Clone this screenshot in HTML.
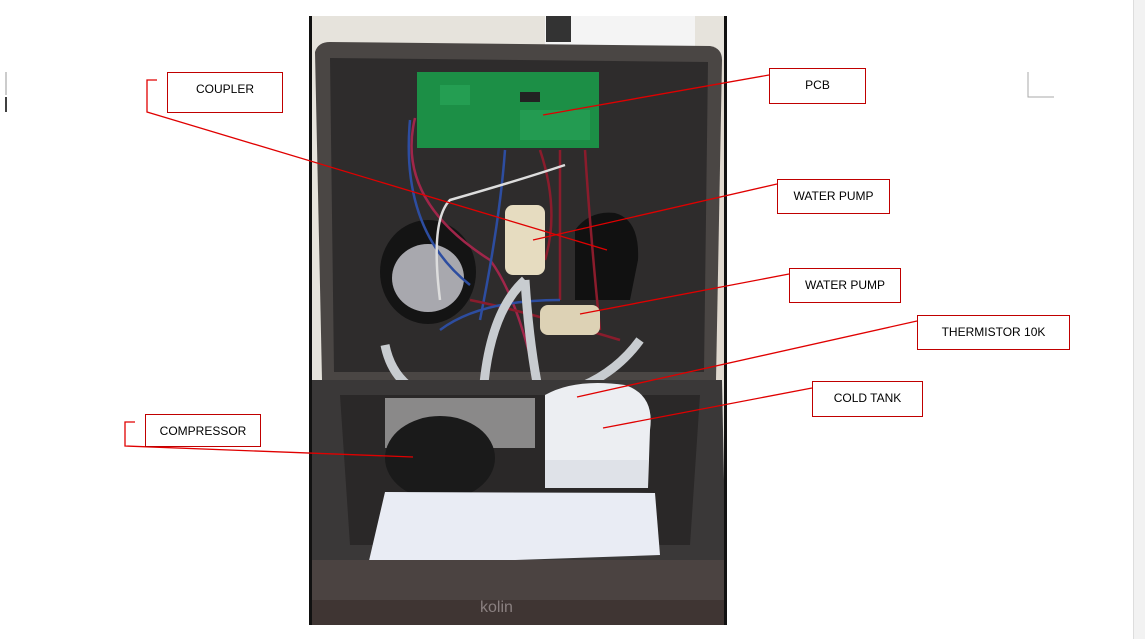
<!DOCTYPE html>
<html><head><meta charset="utf-8"><style>
html,body{margin:0;padding:0;background:#fff;}
body{width:1145px;height:639px;position:relative;overflow:hidden;font-family:"Liberation Sans",sans-serif;}
.lbl{position:absolute;border:1px solid #c00000;background:#fff;font-size:12px;color:#000;box-sizing:border-box;padding-top:9px;text-align:center;}
</style></head><body>
<div style="position:absolute;left:1133px;top:0;width:12px;height:639px;background:#f2f2f2;border-left:1px solid #ddd"></div>
<svg width="1145" height="639" style="position:absolute;left:0;top:0">
<rect x="309" y="16" width="418" height="609" fill="#e6e3dc"/>
<rect x="545" y="16" width="150" height="30" fill="#f4f4f4"/>
<rect x="546" y="16" width="25" height="26" fill="#333"/>
<rect x="690" y="60" width="37" height="320" fill="#e0d9cf"/>
<path d="M315 52 Q318 42 330 42 L710 46 Q722 48 722 60 L716 380 L322 380 Z" fill="#4a4644"/>
<path d="M330 58 L708 62 L704 372 L334 372 Z" fill="#2e2c2c"/>
<rect x="417" y="72" width="182" height="76" fill="#1c8f46"/>
<rect x="440" y="85" width="30" height="20" fill="#2aa85a" opacity=".6"/>
<rect x="520" y="110" width="70" height="30" fill="#26a055" opacity=".7"/>
<rect x="520" y="92" width="20" height="10" fill="#222"/>
<ellipse cx="428" cy="272" rx="48" ry="52" fill="#141414"/>
<ellipse cx="428" cy="278" rx="36" ry="34" fill="#a8a8ae"/>
<path d="M575 230 Q590 210 615 213 Q640 220 638 260 L630 300 L575 300 Z" fill="#111"/>
<g fill="none" stroke-width="2.5">
<path d="M415 118 Q395 200 490 260 Q520 300 540 400" stroke="#a0264a"/>
<path d="M410 120 Q400 230 470 285" stroke="#2d4da0"/>
<path d="M505 150 Q500 220 480 320" stroke="#2d4da0"/>
<path d="M540 150 Q560 210 545 260" stroke="#8a1c2c"/>
<path d="M560 150 L560 300" stroke="#8a1c2c"/>
<path d="M585 150 Q590 230 600 330" stroke="#8a1c2c"/>
<path d="M565 165 Q520 180 450 200 Q430 220 440 300" stroke="#ddd"/>
<path d="M470 300 Q520 310 620 340" stroke="#8a1c2c"/>
<path d="M440 330 Q480 300 560 300" stroke="#2d4da0"/>
</g>
<rect x="505" y="205" width="40" height="70" rx="8" fill="#e6dcc0"/>
<rect x="540" y="305" width="60" height="30" rx="8" fill="#ddd2b5"/>
<g fill="none" stroke="#c8ccd0" stroke-width="9">
<path d="M385 345 Q400 420 520 400 Q600 395 640 340"/>
<path d="M525 280 Q470 330 485 495"/>
<path d="M525 280 Q530 360 545 420"/>
</g>
<path d="M312 380 L722 380 L726 580 L310 580 Z" fill="#3a3838"/>
<path d="M340 395 L700 395 L690 545 L350 545 Z" fill="#2a2828"/>
<rect x="385" y="398" width="150" height="50" fill="#d8d8d8" opacity=".55"/>
<ellipse cx="440" cy="458" rx="55" ry="42" fill="#1a1a1a"/>
<path d="M545 395 Q575 378 625 385 Q655 395 650 430 L648 488 L545 488 Z" fill="#eceef2"/>
<path d="M545 460 L648 460 L648 488 L545 488 Z" fill="#dfe2e8"/>
<path d="M385 492 L655 493 L660 555 L368 565 Z" fill="#e9ecf4"/>
<rect x="309" y="560" width="418" height="65" fill="#4b4341"/>
<rect x="309" y="600" width="418" height="25" fill="#3f3533"/>
<text x="480" y="612" font-size="16" fill="#8a8080" font-family="Liberation Sans, sans-serif">kolin</text>
<rect x="309" y="16" width="3" height="609" fill="#111"/>
<rect x="724" y="16" width="3" height="609" fill="#111"/>
<line x1="6" y1="72" x2="6" y2="95" stroke="#999"/>
<line x1="6" y1="97" x2="6" y2="112" stroke="#000" stroke-width="1.5"/>
<polyline points="1028,72 1028,97 1054,97" fill="none" stroke="#aaa"/>
<g stroke="#e00000" stroke-width="1.3" fill="none">
<polyline points="157,80 147,80 147,112 607,250"/>
<line x1="769" y1="75" x2="543" y2="115"/>
<line x1="777" y1="184" x2="533" y2="240"/>
<line x1="789" y1="274" x2="580" y2="314"/>
<line x1="917" y1="321" x2="577" y2="397"/>
<line x1="812" y1="388" x2="603" y2="428"/>
<polyline points="135,422 125,422 125,446 413,457"/>
</g>
</svg>
<div class="lbl" style="left:167px;top:72px;width:116px;height:41px">COUPLER</div>
<div class="lbl" style="left:769px;top:68px;width:97px;height:36px">PCB</div>
<div class="lbl" style="left:777px;top:179px;width:113px;height:35px">WATER PUMP</div>
<div class="lbl" style="left:789px;top:268px;width:112px;height:35px">WATER PUMP</div>
<div class="lbl" style="left:917px;top:315px;width:153px;height:35px">THERMISTOR 10K</div>
<div class="lbl" style="left:812px;top:381px;width:111px;height:36px">COLD TANK</div>
<div class="lbl" style="left:145px;top:414px;width:116px;height:33px;padding-top:9px">COMPRESSOR</div>
</body></html>
